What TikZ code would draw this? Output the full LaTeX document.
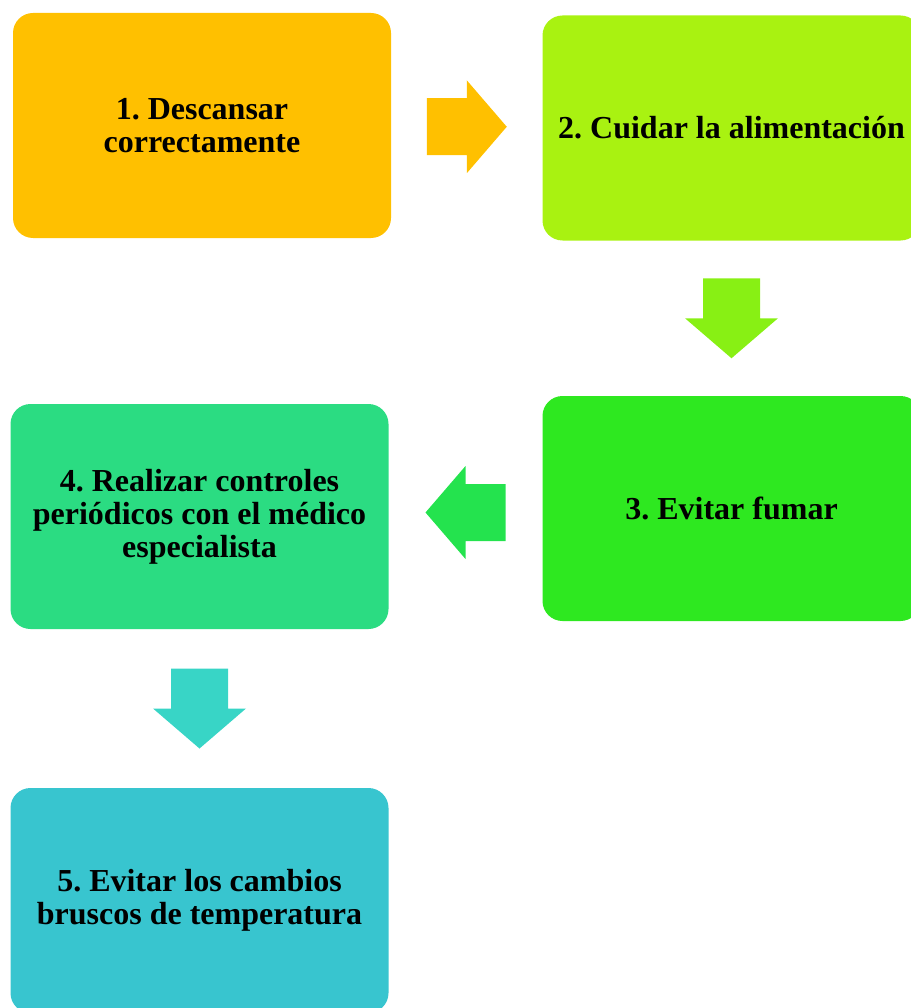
\documentclass[tikz,border=0pt]{standalone}
\usepackage{fontspec}
\setmainfont{Liberation Serif}
\usepackage{tikz}
\usetikzlibrary{calc}
\frenchspacing

\definecolor{paso1}{HTML}{FFC000}
\definecolor{paso2}{HTML}{A9F211}
\definecolor{paso3}{HTML}{2EE820}
\definecolor{paso4}{HTML}{2BDC82}
\definecolor{paso5}{HTML}{38C5CF}
\definecolor{flecha2}{HTML}{88F014}
\definecolor{flecha3}{HTML}{24E34E}
\definecolor{flecha4}{HTML}{38D5C6}

\begin{document}
\begin{tikzpicture}[
    x=1pt, y=-1pt,
    paso/.style={rounded corners=20pt, minimum width=378pt, minimum height=225pt, align=center, inner sep=0pt, font=\bfseries\fontsize{32}{33}\selectfont},
    flecha/.pic={\fill (-40,-28.5) -- (0,-28.5) -- (0,-46.5) -- (40,0) -- (0,46.5) -- (0,28.5) -- (-40,28.5) -- cycle;}
  ]
    \useasboundingbox (0,0) rectangle (910,1008);

    \node[paso, fill=paso1] (p1) at (202,125.5)   {1. Descansar\\correctamente};
    \node[paso, fill=paso2] (p2) at (731.5,128)   {2. Cuidar la alimentación};
    \node[paso, fill=paso3] (p3) at (731.5,508.5) {3. Evitar fumar};
    \node[paso, fill=paso4] (p4) at (199.5,516.5) {4. Realizar controles\\periódicos con el médico\\especialista};
    \node[paso, fill=paso5] (p5) at (199.5,900.5) {5. Evitar los cambios\\bruscos de temperatura};

    % flechas entre pasos
    \coordinate (m12) at ($(p1.east)!0.5!(p2.west)$);
    \coordinate (m23) at ($(p2.south)!0.5!(p3.north)$);
    \coordinate (m34) at ($(p3.west)!0.5!(p4.east)$);
    \coordinate (m45) at ($(p4.south)!0.5!(p5.north)$);

    \pic[color=paso1]               at (m12) {flecha};
    \pic[color=flecha2, rotate=-90] at (m23) {flecha};
    \pic[color=flecha3, rotate=180] at (m34) {flecha};
    \pic[color=flecha4, rotate=-90] at (m45) {flecha};
  \end{tikzpicture}
\end{document}
